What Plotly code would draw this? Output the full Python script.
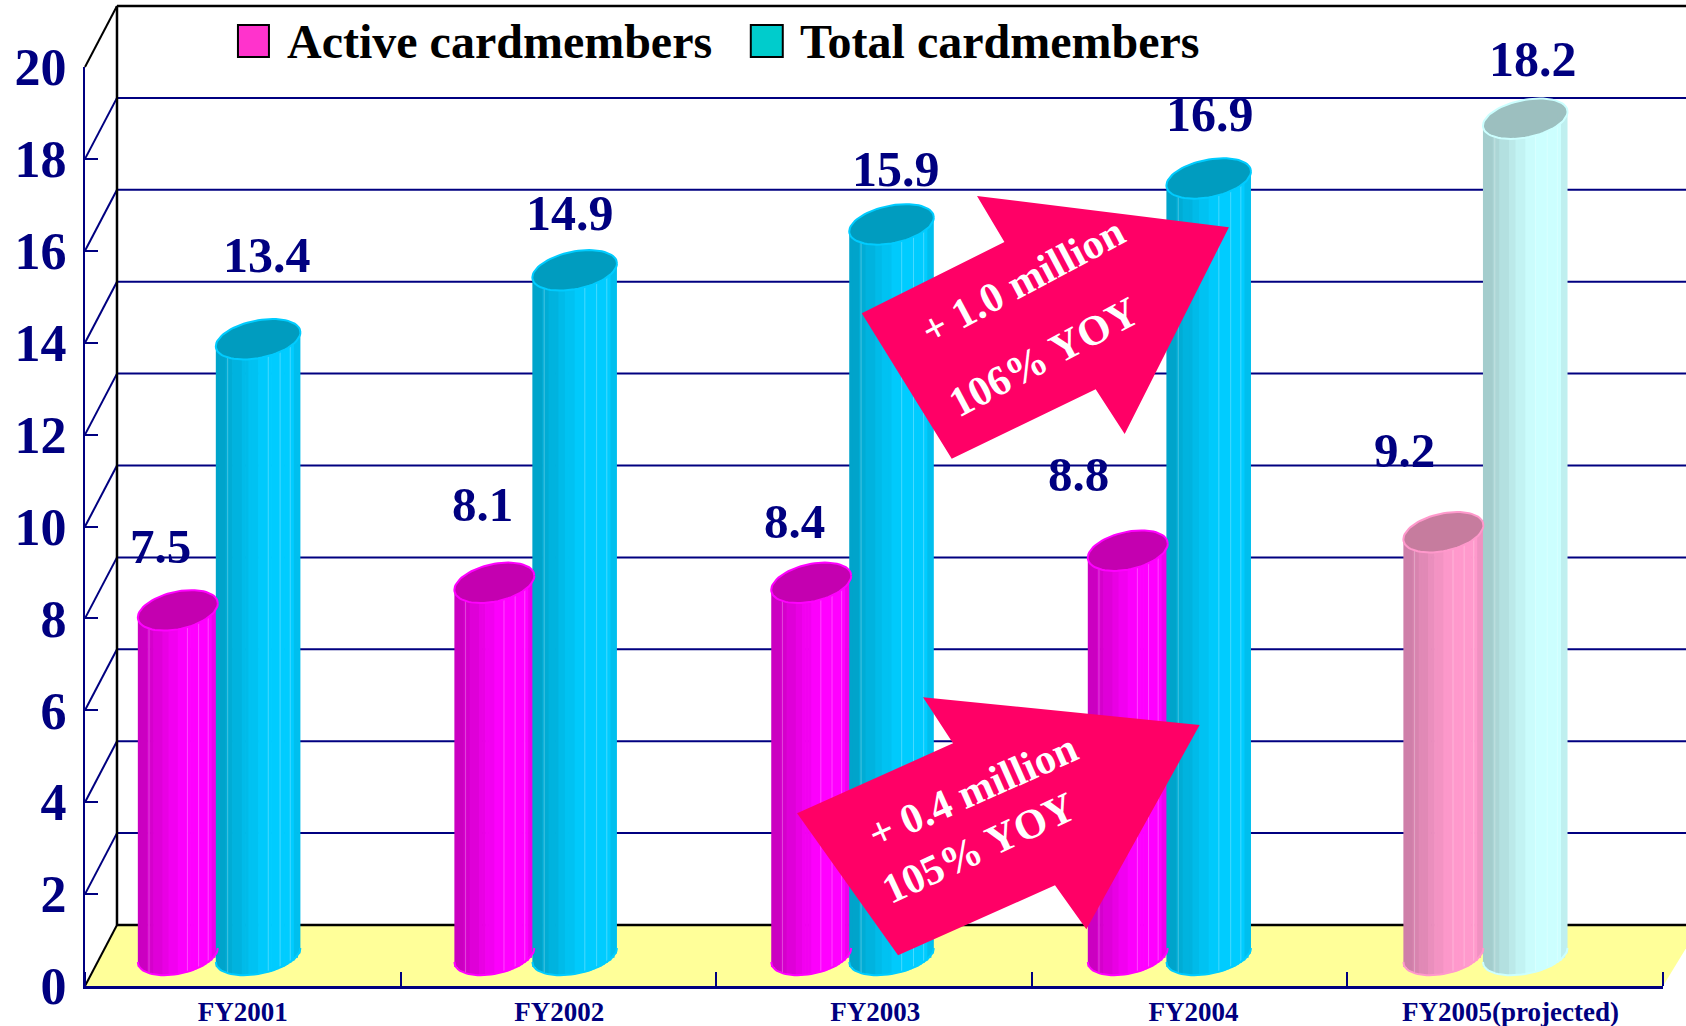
import math
import plotly.graph_objects as go

# ---------- data ----------
categories = ["FY2001", "FY2002", "FY2003", "FY2004", "FY2005(projected)"]
active_labels = [7.5, 8.1, 8.4, 8.8, 9.2]
total_labels = [13.4, 14.9, 15.9, 16.9, 18.2]
# drawn heights (FY2003 active is drawn level with FY2002)
active_heights = [7.5, 8.1, 8.1, 8.8, 9.2]
total_heights = [13.4, 14.9, 15.9, 16.9, 18.2]
y_ticks = list(range(0, 21, 2))

active_dark = ["#C400B8", "#C400B8", "#C400B8", "#C400B8", "#C87CA4"]
active_bright = ["#FF00FF", "#FF00FF", "#FF00FF", "#FF00FF", "#FF99CC"]
active_edge = ["#FF00FF", "#FF00FF", "#FF00FF", "#FF00FF", "#FF99CC"]
active_cap = ["#C400B0", "#C400B0", "#C400B0", "#C400B0", "#C67C9E"]
total_dark = ["#009FC4", "#009FC4", "#009FC4", "#009FC4", "#9FC6C6"]
total_bright = ["#00CCFF", "#00CCFF", "#00CCFF", "#00CCFF", "#CCFFFF"]
total_edge = ["#00CCFF", "#00CCFF", "#00CCFF", "#00CCFF", "#CCFFFF"]
total_cap = ["#009CBF", "#009CBF", "#009CBF", "#009CBF", "#9CBFBF"]

SERIF = "Liberation Serif"
NAVY = "#000080"

# ---------- frame geometry (pixels of the 1686x1026 page) ----------
W, H = 1686, 1026
L, R_EDGE, T, B_EDGE = 85, 1663.5, 67, 986
PW, PH = R_EDGE - L, B_EDGE - T
DEPTH_X, DEPTH_Y = 32, 61
UNIT_Y = PH / 20
STEP_X = PW / 5

# small per-category nudges (in category units) seen in the original drawing
active_nudge = [0.0, 0.003, 0.007, 0.010, 0.010]
total_nudge = [0.0, 0.003, 0.007, 0.012, 0.015]
label_nudge = [0.0, 0.003, 0.004, 0.012, 0.017]


def px(x):
    return (x - L) / PW


def py(y):
    return (B_EDGE - y) / PH


def ypix(v):
    return B_EDGE - v * UNIT_Y


def hexmix(a, b, t):
    ca = [int(a[i:i + 2], 16) for i in (1, 3, 5)]
    cb = [int(b[i:i + 2], 16) for i in (1, 3, 5)]
    return "#%02X%02X%02X" % tuple(round(p + (q - p) * t) for p, q in zip(ca, cb))


shapes = []


def line(x0, y0, x1, y1, color, width, layer="below"):
    shapes.append(dict(type="line", xref="paper", yref="paper", x0=px(x0), y0=py(y0),
                       x1=px(x1), y1=py(y1), line=dict(color=color, width=width), layer=layer))


def poly(points, fill, outline=None, layer="below"):
    path = "M" + "L".join(f"{px(a):.5f},{py(b):.5f}" for a, b in points) + "Z"
    shapes.append(dict(type="path", xref="paper", yref="paper", path=path, fillcolor=fill,
                       line=dict(color=outline or fill, width=2 if outline else 0), layer=layer))


# floor
poly([(L, B_EDGE), (L + DEPTH_X, B_EDGE - DEPTH_Y), (W + 5, B_EDGE - DEPTH_Y), (W + 5, 941),
      (R_EDGE, B_EDGE)], "#FFFF99")
# back wall gridlines and side-wall diagonals
for v in y_ticks:
    back_y = ypix(v) - DEPTH_Y
    is_frame = v in (0, 20)
    colour = "#000000" if is_frame else NAVY
    line(L + DEPTH_X, back_y, W + 5, back_y, colour, 2.5 if is_frame else 2)
    line(L, ypix(v), L + DEPTH_X, back_y, colour, 2)
line(L + DEPTH_X, ypix(0) - DEPTH_Y, L + DEPTH_X, ypix(20) - DEPTH_Y, "#000000", 2.5)

# ---------- cylinders ----------
fig = go.Figure()
N = 26
CAP_B = 19 / UNIT_Y
SHEAR = 7 / UNIT_Y
BASE_LIFT = 31 / UNIT_Y
SHEEN_AT = [0.14, 0.62, 0.76, 0.88]


def cylinder(name, heights, nudge, start, width, dark, bright, edge, cap):
    strip = width / N
    xs = [i + n for i, n in enumerate(nudge)]
    for k in range(N):
        u = (k + 0.5) / N * 2 - 1
        lower = -CAP_B * math.sqrt(max(0, 1 - u * u)) + SHEAR * u
        step = math.floor((k + 0.5) / N * 10) / 9
        shade = min(1, 0.12 + step * 1.5)
        if k >= N - 2:
            shade = 0.72
        fig.add_trace(go.Bar(
            x=xs,
            y=[h - lower + SHEAR * u for h in heights],
            base=[BASE_LIFT + lower] * 5,
            offset=start + k * strip,
            width=strip * 1.25 if k < N - 1 else strip,
            marker=dict(color=[hexmix(d, b, shade) for d, b in zip(dark, bright)], line=dict(width=0)),
            name=name, showlegend=False, hoverinfo="skip"))
    # thin pale facet lines running up the cylinder
    sx, sy = [], []
    for x0, h in zip(xs, heights):
        for f in SHEEN_AT:
            u = f * 2 - 1
            lower = -CAP_B * math.sqrt(1 - u * u) + SHEAR * u
            sx += [x0 + start + f * width] * 2 + [None]
            sy += [BASE_LIFT + lower, BASE_LIFT + h + SHEAR * u, None]
    fig.add_trace(go.Scatter(x=sx, y=sy, mode="lines", line=dict(color="rgba(255,255,255,0.28)", width=1),
                             name=name, showlegend=False, hoverinfo="skip"))
    half = width / 2
    ts = [i / 72 * 2 * math.pi for i in range(73)]
    for i, h in enumerate(heights):
        cx = xs[i] + start + half
        cy = h + BASE_LIFT
        fig.add_trace(go.Scatter(
            x=[cx + half * math.cos(t) for t in ts],
            y=[cy + CAP_B * math.sin(t) + SHEAR * math.cos(t) for t in ts],
            mode="lines", fill="toself", fillcolor=cap[i], line=dict(color=edge[i], width=2),
            name=name, showlegend=False, hoverinfo="skip"))
        low = [t for t in ts if t >= math.pi]
        fig.add_trace(go.Scatter(
            x=[cx + half * math.cos(t) for t in low],
            y=[BASE_LIFT + CAP_B * math.sin(t) + SHEAR * math.cos(t) for t in low],
            mode="lines", line=dict(color=edge[i], width=2),
            name=name, showlegend=False, hoverinfo="skip"))


cylinder("Active cardmembers", active_heights, active_nudge, -0.3326, 0.2534,
         active_dark, active_bright, active_edge, active_cap)
cylinder("Total cardmembers", total_heights, total_nudge, -0.0855, 0.2680,
         total_dark, total_bright, total_edge, total_cap)

# ---------- arrows ----------
arrow_colour = "#FF0066"
poly([(977.3, 196), (1229.3, 227.3), (1125, 434), (1096, 389.3), (952, 458.7), (862, 313.3), (1004.7, 242)],
     arrow_colour, layer="above")
poly([(923.3, 697.3), (1200, 725), (1086.7, 929.3), (1055.3, 885.3), (898.3, 955.3), (797.3, 813.3), (953.3, 743.3)],
     arrow_colour, layer="above")

annotations = []


def note(x, y, text, size, color, angle=0, anchor="center"):
    annotations.append(dict(xref="paper", yref="paper", x=px(x), y=py(y), text=text, showarrow=False,
                            xanchor=anchor, yanchor="middle", textangle=angle,
                            font=dict(family=SERIF, size=size, color=color, weight="bold")))


note(1023, 281, "+ 1.0 million", 42, "#FFFFFF", -28)
note(1044, 357, "106% YOY", 42, "#FFFFFF", -28)
note(973, 791, "+ 0.4 million", 42, "#FFFFFF", -24)
note(979, 848, "105% YOY", 42, "#FFFFFF", -25)

# ---------- value labels (centres) ----------
active_label_pos = [(161, 546), (483, 504), (795, 521), (1079, 474), (1405, 450)]
total_label_pos = [(267, 255), (570, 213), (896, 169), (1210, 114), (1533, 59)]
for value, (x, y) in zip(active_labels, active_label_pos):
    note(x, y, f"{value:.1f}", 49, NAVY)
for value, (x, y) in zip(total_labels, total_label_pos):
    note(x, y, f"{value:.1f}", 50, NAVY)

# ---------- legend ----------
poly([(238, 25), (269, 25), (269, 57), (238, 57)], "#FF33CC", "#000000", "above")
poly([(751, 25), (783, 25), (783, 57), (751, 57)], "#00CCCC", "#000000", "above")
note(285, 42, "Active cardmembers", 48, "#000000", anchor="left")
note(798, 42, "Total cardmembers", 48, "#000000", anchor="left")

fig.update_layout(
    width=W, height=H, autosize=False,
    margin=dict(l=L, r=W - R_EDGE, t=T, b=H - B_EDGE, pad=0),
    paper_bgcolor="#FFFFFF", plot_bgcolor="rgba(0,0,0,0)",
    barmode="overlay", showlegend=False, shapes=shapes, annotations=annotations,
    font=dict(family=SERIF),
    xaxis=dict(range=[-0.5, 4.5], tickvals=[i + n for i, n in enumerate(label_nudge)], ticktext=categories,
               automargin=False, ticks="", showgrid=False, zeroline=False, showline=True,
               linecolor=NAVY, linewidth=3,
               tickfont=dict(family=SERIF, size=27, color=NAVY, weight="bold"),
               minor=dict(tickvals=[i - 0.5 for i in range(6)], ticks="inside", ticklen=14,
                          tickcolor=NAVY, tickwidth=2, showgrid=False)),
    yaxis=dict(range=[0, 20], tickvals=y_ticks, ticks="inside", ticklen=13, tickcolor=NAVY, tickwidth=2,
               showgrid=False, zeroline=False, showline=True, linecolor=NAVY, linewidth=2, automargin=False,
               ticklabelstandoff=6,
               tickfont=dict(family=SERIF, size=52, color=NAVY, weight="bold")),
)

fig.write_html("out.html", post_script="document.body.style.margin='0';document.documentElement.style.overflow='hidden';",
               config={"displayModeBar": False})
